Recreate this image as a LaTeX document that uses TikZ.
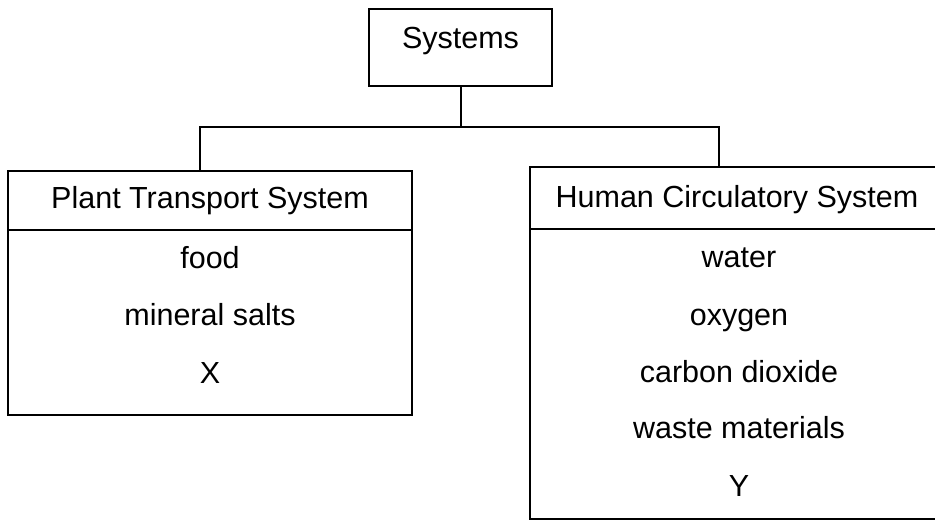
\documentclass[tikz,border=0pt]{standalone}
\usepackage{fontspec}
\setmainfont{Liberation Sans}
\begin{document}
\begin{tikzpicture}[x=1pt,y=-1pt,
  frame/.style={draw=black, line width=2pt, inner sep=0pt},
  txt/.style={font=\fontsize{30.5}{36}\selectfont, anchor=base, inner sep=0pt},
  wire/.style={draw=black, line width=2pt}]
\useasboundingbox (0,0) rectangle (935,522);
% top box
\node[frame, txt, minimum width=183pt, text height=39pt, text depth=38pt] (sys) at (460.5,48) {Systems};
% left box
\node[frame, minimum width=404pt, minimum height=244pt] (plant) at (210,293) {};
\coordinate (psep) at (210,230);
\draw[wire] (plant.west |- psep) -- (plant.east |- psep);
\node[txt] (ph) at (210,208) {Plant Transport System};
\node[txt] (p1) at (210,268) {food};
\node[txt] (p2) at (210,325) {mineral salts};
\node[txt] (p3) at (210,383) {X};
% right box (right side runs off the page)
\node[frame, minimum width=414pt, minimum height=352pt] (human) at (737,343) {};
\coordinate (hsep) at (737,229);
\draw[wire] (human.west |- hsep) -- (human.east |- hsep);
\node[txt] (hh) at (737,207) {Human Circulatory System};
\node[txt] (h1) at (739,267) {water};
\node[txt] (h2) at (739,325) {oxygen};
\node[txt] (h3) at (739,382) {carbon dioxide};
\node[txt] (h4) at (739,438) {waste materials};
\node[txt] (h5) at (739,496) {Y};
% connectors
\coordinate (bus) at (460.5,127);
\coordinate (ldrop) at (200,127);
\coordinate (rdrop) at (719,127);
\draw[wire] (sys.south) -- (bus);
\draw[wire] (plant.north -| ldrop) -- (ldrop) -- (rdrop) -- (human.north -| rdrop);
\end{tikzpicture}
\end{document}
